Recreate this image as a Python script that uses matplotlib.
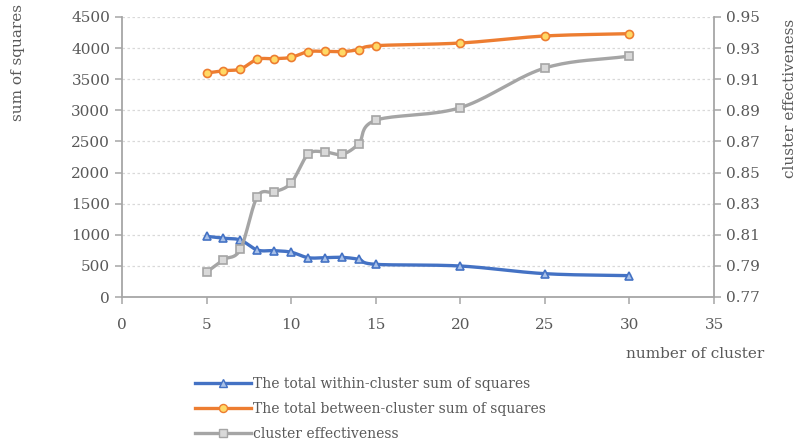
import numpy as np
import matplotlib

matplotlib.use("Agg")
import matplotlib.pyplot as plt  # noqa: E402
from matplotlib.lines import Line2D  # noqa: E402

# values
clusters = [5, 6, 7, 8, 9, 10, 11, 12, 13, 14, 15, 20, 25, 30]
within_ss = [975, 945, 915, 755, 745, 720, 632, 632, 637, 605, 525, 498, 375, 343]
between_ss = [3600, 3637, 3664, 3820, 3830, 3852, 3943, 3948, 3943, 3975, 4039, 4082, 4195, 4232]
effectiveness = [0.786, 0.794, 0.8007, 0.8345, 0.8375, 0.8433, 0.8617, 0.8632,
                 0.8617, 0.8686, 0.8836, 0.8917, 0.9172, 0.9249]

labels = ["The total within-cluster sum of squares",
          "The total between-cluster sum of squares",
          "cluster effectiveness"]

BLUE = "#4472C4"
ORANGE = "#ED7D31"
GRAY = "#A5A5A5"
TXT = "#595959"
SPINE = "#A6A6A6"

plt.rcParams["font.family"] = ["DejaVu Serif"]
plt.rcParams["font.size"] = 10


def smooth(xs, ys, n=20):
    """Catmull-Rom through the points, roughly what Excel's smoothed line does."""
    x = np.asarray(xs, float)
    y = np.asarray(ys, float)
    px = np.concatenate([[2 * x[0] - x[1]], x, [2 * x[-1] - x[-2]]])
    py = np.concatenate([[2 * y[0] - y[1]], y, [2 * y[-1] - y[-2]]])
    outx, outy = [], []
    t = np.linspace(0, 1, n, endpoint=False)
    for i in range(1, len(px) - 2):
        p0, p1, p2, p3 = px[i - 1:i + 3]
        q0, q1, q2, q3 = py[i - 1:i + 3]
        # bezier control points, tension 1/6
        c1x, c1y = p1 + (p2 - p0) / 6, q1 + (q2 - q0) / 6
        c2x, c2y = p2 - (p3 - p1) / 6, q2 - (q3 - q1) / 6
        b = [(1 - t) ** 3, 3 * (1 - t) ** 2 * t, 3 * (1 - t) * t ** 2, t ** 3]
        outx.append(b[0] * p1 + b[1] * c1x + b[2] * c2x + b[3] * p2)
        outy.append(b[0] * q1 + b[1] * c1y + b[2] * c2y + b[3] * q2)
    outx.append([x[-1]])
    outy.append([y[-1]])
    return np.concatenate(outx), np.concatenate(outy)


fig = plt.figure(figsize=(8.02, 4.48), dpi=100)
ax = fig.add_axes([122 / 802, 1 - 297 / 448, (714 - 122) / 802, 280 / 448])
ax2 = ax.twinx()

lw = 2.4
ms = 5.8
sx, sy = smooth(clusters, within_ss)
ax.plot(sx, sy, color=BLUE, lw=lw, zorder=3)
ax.plot(clusters, within_ss, ls="none", marker="^", ms=ms, mfc="#A9C1E8",
        mec=BLUE, mew=1.2, zorder=4)
sx, sy = smooth(clusters, between_ss)
ax.plot(sx, sy, color=ORANGE, lw=lw, zorder=3)
ax.plot(clusters, between_ss, ls="none", marker="o", ms=ms, mfc="#FFD966",
        mec=ORANGE, mew=1.2, zorder=4)
sx, sy = smooth(clusters, effectiveness)
ax2.plot(sx, sy, color=GRAY, lw=lw, zorder=3)
ax2.plot(clusters, effectiveness, ls="none", marker="s", ms=ms, mfc="#D9D9D9",
         mec=GRAY, mew=1.2, zorder=4)

ax.set_xlim(0, 35)
ax.set_xticks(range(0, 36, 5))
ax.set_ylim(0, 4500)
ax.set_yticks(range(0, 4501, 500))
ax2.set_ylim(0.77, 0.95)
ax2.set_yticks(np.arange(0.77, 0.951, 0.02))
ax2.set_yticklabels([f"{v:.2f}" for v in np.arange(0.77, 0.951, 0.02)])

ax.grid(axis="y", color="#D9D9D9", ls=(0, (2, 2)), lw=0.9)
ax.set_axisbelow(True)

for a in (ax, ax2):
    a.spines["top"].set_visible(False)
    for s in ("left", "right", "bottom"):
        a.spines[s].set_color(SPINE)
        a.spines[s].set_linewidth(1.3)
    a.tick_params(colors=SPINE, labelcolor=TXT, labelsize=11, length=5, width=1.1)
ax.spines["right"].set_visible(False)
ax2.spines["left"].set_visible(False)
ax2.spines["bottom"].set_visible(False)
ax.tick_params(axis="x", pad=10)

fig.text(18 / 802, 1 - 62 / 448, "sum of squares", rotation=90, ha="center",
         va="center", color=TXT, fontsize=11)
fig.text(790 / 802, 1 - 98 / 448, "cluster effectiveness", rotation=90,
         ha="center", va="center", color=TXT, fontsize=11)
fig.text(695 / 802, 1 - 354 / 448, "number of cluster", ha="center",
         va="center", color=TXT, fontsize=11)

handles = [
    Line2D([], [], color=BLUE, lw=lw, marker="^", ms=ms, mfc="#A9C1E8", mec=BLUE),
    Line2D([], [], color=ORANGE, lw=lw, marker="o", ms=ms, mfc="#FFD966", mec=ORANGE),
    Line2D([], [], color=GRAY, lw=lw, marker="s", ms=ms, mfc="#D9D9D9", mec=GRAY),
]
leg = fig.legend(handles, labels, loc="upper left",
                 bbox_to_anchor=(188 / 802, 1 - 370 / 448), frameon=False,
                 fontsize=10, handlelength=4.0, handletextpad=0.2,
                 labelspacing=0.8, borderpad=0)
for t in leg.get_texts():
    t.set_color(TXT)

fig.savefig("out.png", dpi=100)
